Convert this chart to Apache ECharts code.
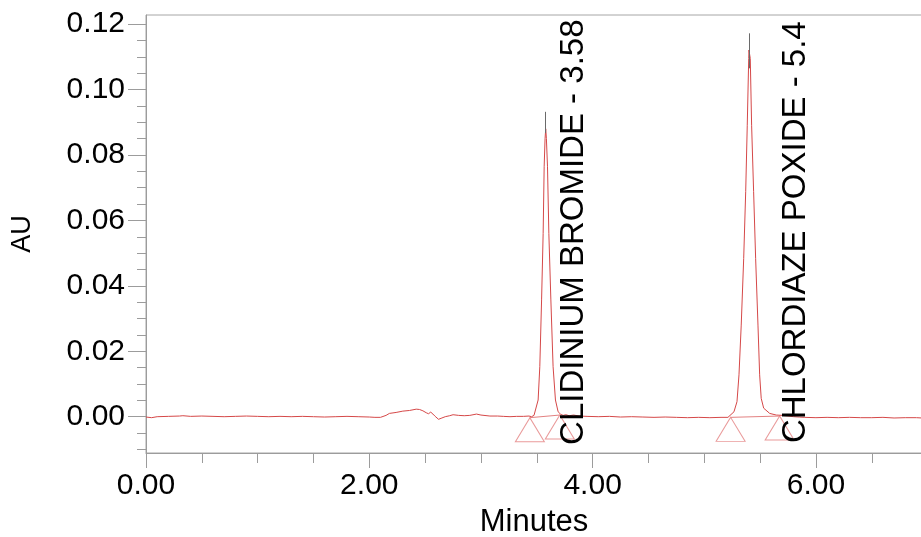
<!DOCTYPE html>
<html>
<head>
<meta charset="utf-8">
<script src="https://cdn.jsdelivr.net/npm/echarts@6/dist/echarts.min.js"></script>
<style>
  html, body { margin: 0; padding: 0; background: #ffffff; }
  #chart { width: 921px; height: 537px; }
</style>
</head>
<body>
<div id="chart"></div>
<script>
// Detector trace: retention time (minutes) and absorbance (AU)
const traceTimes = [
  0.00, 0.05, 0.10, 0.20, 0.30, 0.33, 0.40, 0.50, 0.60, 0.70, 0.80, 0.90,
  1.00, 1.10, 1.20, 1.30, 1.40, 1.50, 1.60, 1.70, 1.80, 1.90, 2.00, 2.05,
  2.10, 2.15, 2.18, 2.24, 2.30, 2.36, 2.42, 2.45, 2.48, 2.51, 2.53, 2.55,
  2.57, 2.59, 2.62, 2.65, 2.68, 2.72, 2.75, 2.80, 2.85, 2.90, 2.96, 3.00,
  3.08, 3.15, 3.20, 3.26, 3.32, 3.38, 3.43,
  3.453, 3.475, 3.492, 3.512, 3.527, 3.543, 3.557, 3.566, 3.574, 3.580,
  3.586, 3.596, 3.608, 3.626, 3.646, 3.667, 3.691, 3.715, 3.736, 3.760,
  3.790, 3.830, 3.880, 3.950, 4.050, 4.150, 4.250, 4.350, 4.450, 4.550,
  4.650, 4.750, 4.850, 4.950, 5.050, 5.150, 5.212,
  5.266, 5.293, 5.311, 5.331, 5.353, 5.371, 5.385, 5.398, 5.400,
  5.412, 5.424, 5.442, 5.460, 5.481, 5.496, 5.510, 5.532, 5.586, 5.645,
  5.700, 5.750, 5.800, 5.850, 5.900, 6.000, 6.100, 6.200, 6.300, 6.400,
  6.500, 6.600, 6.700, 6.800, 6.900, 6.950
];
const traceValues = [
  -0.0001, -0.0003, 0.0000, 0.0001, 0.0002, 0.0003, 0.0001, 0.0002, 0.0001, 0.0000, 0.0001, 0.0002,
  0.0001, 0.0000, 0.0001, 0.0000, 0.0001, 0.0000, -0.0001, 0.0000, 0.0001, 0.0000, -0.0001, -0.0002,
  -0.0002, 0.0004, 0.0010, 0.0013, 0.0017, 0.0019, 0.0023, 0.0022, 0.0018, 0.0012, 0.0009, 0.0014,
  0.0008, 0.0001, -0.0008, -0.0004, 0.0000, 0.0003, 0.0006, 0.0004, 0.0003, 0.0004, 0.0008, 0.0005,
  0.0002, 0.0002, 0.0001, 0.0000, 0.0001, 0.0001, 0.0002,
  0.0000, 0.0004, 0.0010, 0.0051, 0.0153, 0.0357, 0.0560, 0.0764, 0.0850, 0.0880,
  0.0850, 0.0764, 0.0560, 0.0357, 0.0153, 0.0051, 0.0015, 0.0007, 0.0004, 0.0006,
  0.0003, 0.0005, 0.0002, 0.0001, 0.0000, 0.0001, -0.0001, 0.0000, -0.0001, -0.0002,
  -0.0001, -0.0002, -0.0003, -0.0002, -0.0003, -0.0002, -0.0002,
  0.0015, 0.0046, 0.0128, 0.0280, 0.0484, 0.0688, 0.0891, 0.1095, 0.1121,
  0.1095, 0.0891, 0.0688, 0.0484, 0.0280, 0.0128, 0.0056, 0.0026, 0.0010, 0.0005,
  0.0004, 0.0002, 0.0000, -0.0001, -0.0002, -0.0003, -0.0002, -0.0003, -0.0002, -0.0003,
  -0.0003, -0.0002, -0.0004, -0.0003, -0.0003, -0.0004
];

// Identified peaks
const peakNames = ['CLIDINIUM BROMIDE', 'CHLORDIAZE POXIDE'];
const peakTimes = [3.58, 5.4];
const peakTipLow = [0.0867, 0.1065];
const peakTipHigh = [0.0932, 0.1172];

// Integration start / end points of each peak
const markerTimes = [3.438, 3.706, 5.236, 5.675];
const markerValues = [-0.0003, 0.0005, -0.0002, 0.0002];

// Axis ticks
const xMajorTicks = [0, 2, 4, 6];
const xMinorTicks = [0.5, 1, 1.5, 2.5, 3, 3.5, 4.5, 5, 5.5, 6.5];
const yMajorTicks = [0, 0.02, 0.04, 0.06, 0.08, 0.10, 0.12];
const yMinorTicks = [-0.01, -0.005, 0.005, 0.01, 0.015, 0.025, 0.03, 0.035,
  0.045, 0.05, 0.055, 0.065, 0.07, 0.075, 0.085, 0.09, 0.095, 0.105, 0.11, 0.115];

// Layout
const X_MIN = 0, X_MAX = 6.95;
const Y_MIN = -0.0111, Y_MAX = 0.1228;
const FONT = "'Liberation Sans', Arial, sans-serif";
const AXIS_GREY = '#9c9c9c';
const TRACE_RED = '#d54848';
const MARKER_RED = '#e38181';
const LABEL_SHIFT = [0.252, 0.419];   // label centre offset from apex (min)
const LABEL_MID = 0.0564;             // label centre height (AU)

const trace = traceTimes.map((t, i) => [t, traceValues[i]]);
const markers = markerTimes.map((t, i) => [t, markerValues[i]]);

const baselineSegments = [];
for (let i = 0; i < markerTimes.length; i += 2) {
  baselineSegments.push([
    { coord: [markerTimes[i], markerValues[i]], lineStyle: { color: MARKER_RED, width: 1, type: 'solid' } },
    { coord: [markerTimes[i + 1], markerValues[i + 1]] }
  ]);
}
const apexTips = peakTimes.map((t, i) => [
  { coord: [t, peakTipLow[i]], lineStyle: { color: '#6a6a6a', width: 1, type: 'solid' } },
  { coord: [t, peakTipHigh[i]] }
]);

const peakLabels = peakNames.map((n, i) => ({
  name: n + ' - ' + String(peakTimes[i]),
  coord: [peakTimes[i] + LABEL_SHIFT[i], LABEL_MID]
}));

const tickStyle = { color: AXIS_GREY, width: 1 };

const chart = echarts.init(document.getElementById('chart'), null, { renderer: 'canvas' });
chart.setOption({
  animation: false,
  backgroundColor: '#ffffff',
  grid: {
    left: 146, top: 15, right: -1, bottom: 84,
    outerBoundsMode: 'none',
    containLabel: false,
    show: true, borderColor: '#a6a6a6', borderWidth: 1, backgroundColor: 'transparent'
  },
  xAxis: [
    {
      type: 'value', min: X_MIN, max: X_MAX, position: 'bottom',
      name: 'Minutes', nameLocation: 'middle', nameGap: 54,
      nameTextStyle: { fontFamily: FONT, fontSize: 31, color: '#000' },
      axisLine: { show: true, onZero: false, lineStyle: { color: AXIS_GREY, width: 1 } },
      axisTick: { show: true, customValues: xMajorTicks, length: 15, lineStyle: tickStyle },
      axisLabel: {
        show: true, customValues: xMajorTicks, margin: 18,
        fontFamily: FONT, fontSize: 30, color: '#000',
        formatter: v => v.toFixed(2)
      },
      splitLine: { show: false }
    },
    {
      type: 'value', min: X_MIN, max: X_MAX, position: 'bottom',
      axisLine: { show: false, onZero: false },
      axisTick: { show: true, customValues: xMinorTicks, length: 10, lineStyle: tickStyle },
      axisLabel: { show: false },
      splitLine: { show: false }
    }
  ],
  yAxis: [
    {
      type: 'value', min: Y_MIN, max: Y_MAX, position: 'left',
      name: 'AU', nameLocation: 'middle', nameGap: 110, nameRotate: 90,
      nameTextStyle: { fontFamily: FONT, fontSize: 27, color: '#000' },
      axisLine: { show: true, onZero: false, lineStyle: { color: AXIS_GREY, width: 1 } },
      axisTick: { show: true, customValues: yMajorTicks, length: 18, lineStyle: tickStyle },
      axisLabel: {
        show: true, customValues: yMajorTicks, margin: 21,
        fontFamily: FONT, fontSize: 30, color: '#000',
        formatter: v => v.toFixed(2)
      },
      splitLine: { show: false }
    },
    {
      type: 'value', min: Y_MIN, max: Y_MAX, position: 'left',
      axisLine: { show: false, onZero: false },
      axisTick: { show: true, customValues: yMinorTicks, length: 9, lineStyle: tickStyle },
      axisLabel: { show: false },
      splitLine: { show: false }
    }
  ],
  series: [
    {
      name: 'trace',
      type: 'line',
      xAxisIndex: 0, yAxisIndex: 0,
      data: trace,
      showSymbol: false,
      symbol: 'none',
      lineStyle: { color: TRACE_RED, width: 1 },
      itemStyle: { color: TRACE_RED },
      clip: true,
      z: 3,
      markLine: {
        silent: true,
        symbol: ['none', 'none'],
        label: { show: false },
        data: baselineSegments.concat(apexTips)
      },
      markPoint: {
        silent: true,
        symbol: 'circle',
        symbolSize: 0,
        label: {
          show: true, position: 'inside', rotate: 90,
          fontFamily: FONT, fontSize: 33, color: '#000',
          formatter: '{b}'
        },
        data: peakLabels
      }
    },
    {
      name: 'integration markers',
      type: 'scatter',
      xAxisIndex: 0, yAxisIndex: 0,
      data: markers,
      symbol: 'triangle',
      symbolSize: [29, 24],
      symbolOffset: [0, 12],
      itemStyle: { color: 'rgba(255,255,255,0)', borderColor: MARKER_RED, borderWidth: 1 },
      z: 2
    }
  ]
});
</script>
</body>
</html>
